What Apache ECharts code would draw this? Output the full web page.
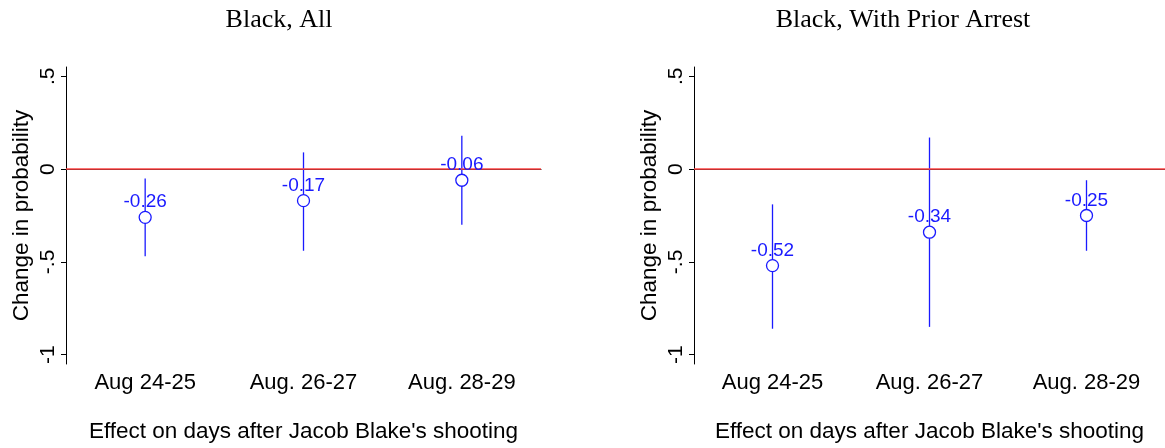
<!DOCTYPE html>
<html>
<head>
<meta charset="utf-8">
<script src="https://cdn.jsdelivr.net/npm/echarts@6/dist/echarts.min.js"></script>
<style>
html,body{margin:0;padding:0;background:#fff;}
#chart{width:1165px;height:448px;}
</style>
</head>
<body>
<div id="chart"></div>
<script>
// ---- data ----
const categories = ['Aug 24-25', 'Aug. 26-27', 'Aug. 28-29'];
const panelTitles = ['Black, All', 'Black, With Prior Arrest'];
const yTicks = [-1, -0.5, 0, 0.5];
const allEst = [-0.26, -0.17, -0.06];
const allLow = [-0.47, -0.44, -0.30];
const allHigh = [-0.05, 0.09, 0.18];
const priorEst = [-0.52, -0.34, -0.25];
const priorLow = [-0.86, -0.85, -0.44];
const priorHigh = [-0.19, 0.17, -0.06];

const BLUE = '#1a1aff';
const RED = '#ff4545';
const SANS = 'Liberation Sans, Arial, sans-serif';

function fmtTick(v) {
  if (v === 0) return '0';
  return String(v).replace('0.', '.');
}

const chart = echarts.init(document.getElementById('chart'));
const grids = [
  {left: 66, top: 67, width: 475, height: 299},
  {left: 694, top: 67, width: 475, height: 299}
];
const titleCenters = [274, 898];

function xAx(i) {
  return {
    type: 'category', gridIndex: i, data: categories, boundaryGap: true,
    axisLine: {lineStyle: {color: '#000', width: 1}},
    axisTick: {alignWithLabel: true, length: 5, lineStyle: {color: '#000'}},
    axisLabel: {color: '#000', fontFamily: SANS, fontSize: 22, margin: 8},
    name: "Effect on days after Jacob Blake's shooting",
    nameLocation: 'middle', nameGap: 56,
    nameTextStyle: {color: '#000', fontFamily: SANS, fontSize: 22.5}
  };
}
function yAx(i) {
  return {
    type: 'value', gridIndex: i, min: -1.05, max: 0.55,
    splitLine: {show: false},
    axisLine: {show: true, lineStyle: {color: '#000', width: 1}},
    axisTick: {show: true, length: 5, customValues: yTicks, lineStyle: {color: '#000'}},
    axisLabel: {show: true, customValues: yTicks, rotate: 90, color: '#000',
      fontFamily: SANS, fontSize: 21, margin: 7, formatter: fmtTick},
    name: 'Change in probability', nameLocation: 'middle', nameRotate: 90, nameGap: 33,
    nameTextStyle: {color: '#000', fontFamily: SANS, fontSize: 22.5}
  };
}

function errSeries(i, lo, hi) {
  return {
    type: 'custom', xAxisIndex: i, yAxisIndex: i, z: 3,
    data: lo.map((l, k) => [k, l, hi[k]]),
    renderItem: function (params, api) {
      const p1 = api.coord([api.value(0), api.value(1)]);
      const p2 = api.coord([api.value(0), api.value(2)]);
      return {type: 'line', shape: {x1: p1[0], y1: p1[1], x2: p2[0], y2: p2[1]},
        style: {stroke: BLUE, lineWidth: 1.3}};
    },
    markLine: {
      silent: true, symbol: 'none', animation: false,
      lineStyle: {color: RED, width: 1.5, type: 'solid'},
      label: {show: false},
      data: [{yAxis: 0}]
    }
  };
}
function ptSeries(i, est) {
  return {
    type: 'scatter', xAxisIndex: i, yAxisIndex: i, z: 5,
    data: est.map((v, k) => [k, v]),
    symbol: 'circle', symbolSize: 12,
    itemStyle: {color: '#fff', borderColor: BLUE, borderWidth: 1.3, opacity: 1},
    label: {show: true, position: 'top', distance: -1, color: BLUE, fontFamily: SANS,
      fontSize: 19, formatter: p => p.value[1].toFixed(2)}
  };
}

chart.setOption({
  backgroundColor: '#fff',
  animation: false,
  title: panelTitles.map((t, i) => ({
    text: t, left: titleCenters[i], top: 2, textAlign: 'center',
    textStyle: {fontFamily: 'Liberation Serif, serif', fontWeight: 'normal', fontSize: 26, color: '#000'}
  })),
  grid: grids,
  xAxis: [xAx(0), xAx(1)],
  yAxis: [yAx(0), yAx(1)],
  series: [
    errSeries(0, allLow, allHigh), ptSeries(0, allEst),
    errSeries(1, priorLow, priorHigh), ptSeries(1, priorEst)
  ]
});
</script>
</body>
</html>
